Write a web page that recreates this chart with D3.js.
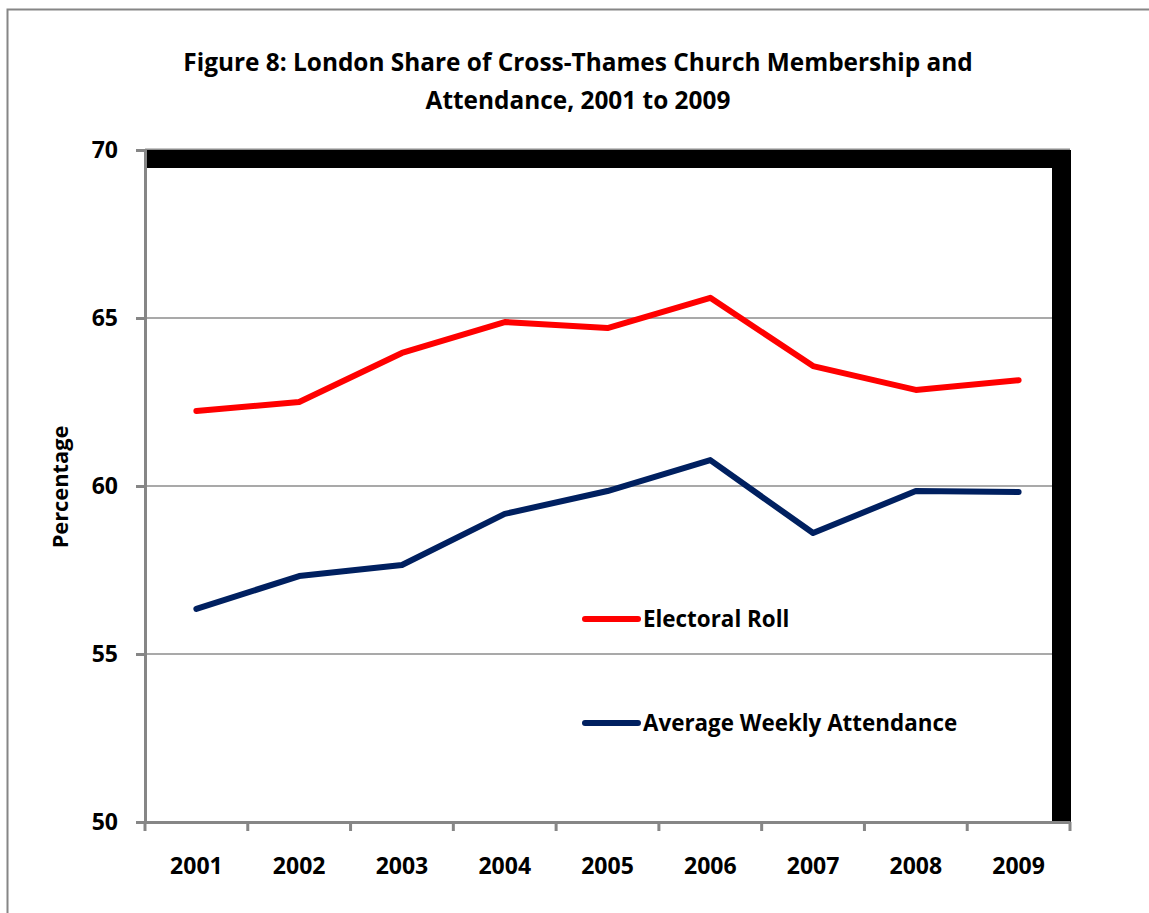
<!DOCTYPE html>
<html>
<head>
<meta charset="utf-8">
<script src="https://cdn.jsdelivr.net/npm/d3@7"></script>
<style>
  body { margin: 0; background: #fff; }
  text { font-family: "Open Sans", "Liberation Sans", sans-serif; font-weight: bold; fill: #000; }
</style>
</head>
<body>
<div id="chart"></div>
<script>
// data
var years = ["2001","2002","2003","2004","2005","2006","2007","2008","2009"];
var electoralRoll = [62.23, 62.5, 63.96, 64.88, 64.7, 65.6, 63.57, 62.86, 63.15];
var attendance = [56.34, 57.32, 57.65, 59.17, 59.85, 60.77, 58.6, 59.85, 59.82];
var yTicks = [50, 55, 60, 65, 70];

var W = 1149, H = 913;
var margin = {top: 150, right: 79, bottom: 91, left: 145},
    width = W - margin.left - margin.right,
    height = H - margin.top - margin.bottom;

var root = d3.select("#chart")
  .append("svg")
    .attr("width", W)
    .attr("height", H);

// outer chart border (runs off the right/bottom edge)
root.append("rect")
  .attr("x", 7.5).attr("y", 9.5)
  .attr("width", 1160).attr("height", 920)
  .attr("fill", "none")
  .attr("stroke", "#868686")
  .attr("stroke-width", 2);

// title
var title = root.append("text")
  .attr("text-anchor", "middle")
  .attr("font-size", 24.4);
title.append("tspan").attr("x", 578).attr("y", 71)
  .text("Figure 8: London Share of Cross-Thames Church Membership and");
title.append("tspan").attr("x", 578).attr("y", 109)
  .text("Attendance, 2001 to 2009");

var svg = root.append("g")
  .attr("transform", "translate(" + margin.left + "," + margin.top + ")");

var x = d3.scaleBand()
  .domain(years)
  .range([0, width]);

var y = d3.scaleLinear()
  .domain([50, 70])
  .range([height, 0]);

// gridlines
svg.append("g")
  .selectAll("line")
  .data(yTicks.filter(function(d) { return d > 50 && d < 70; }))
  .enter()
  .append("line")
    .attr("x1", 0).attr("x2", width)
    .attr("y1", function(d) { return y(d); })
    .attr("y2", function(d) { return y(d); })
    .attr("stroke", "#8c8c8c")
    .attr("stroke-width", 1.5);

// black frame on top and right of plot
svg.append("line")
  .attr("x1", 0).attr("x2", width)
  .attr("y1", y(70) - 0.5).attr("y2", y(70) - 0.5)
  .attr("stroke", "#8c8c8c").attr("stroke-width", 2);
svg.append("rect")
  .attr("x", 0).attr("y", y(70))
  .attr("width", width + 1).attr("height", 18)
  .attr("fill", "#000");
svg.append("rect")
  .attr("x", width - 18).attr("y", y(70))
  .attr("width", 19).attr("height", height)
  .attr("fill", "#000");

// Y axis
var yAxis = svg.append("g")
  .call(d3.axisLeft(y).tickValues(yTicks).tickSize(9).tickPadding(18));
yAxis.select(".domain").attr("stroke", "#868686").attr("stroke-width", 3);
yAxis.selectAll(".tick line").attr("stroke", "#868686").attr("stroke-width", 3);
yAxis.selectAll("text")
  .attr("font-size", 23)
  .attr("font-family", "'Open Sans', sans-serif")
  .attr("font-weight", "bold")
  .attr("fill", "#000");

// X axis
var xAxis = svg.append("g")
  .attr("transform", "translate(0," + height + ")")
  .call(d3.axisBottom(x).tickSize(0).tickPadding(36));
xAxis.select(".domain").attr("stroke", "#868686").attr("stroke-width", 3);
xAxis.selectAll("text")
  .attr("font-size", 23)
  .attr("font-family", "'Open Sans', sans-serif")
  .attr("font-weight", "bold")
  .attr("fill", "#000");
// tick marks at category boundaries
svg.append("g")
  .selectAll("line")
  .data(years.concat(["end"]))
  .enter()
  .append("line")
    .attr("x1", function(d, i) { return i < years.length ? x(d) : width; })
    .attr("x2", function(d, i) { return i < years.length ? x(d) : width; })
    .attr("y1", height).attr("y2", height + 9)
    .attr("stroke", "#868686").attr("stroke-width", 3);

// y axis title
root.append("text")
  .attr("transform", "translate(68,487) rotate(-90)")
  .attr("text-anchor", "middle")
  .attr("font-size", 21.8)
  .text("Percentage");

// lines
var line = d3.line()
  .x(function(d, i) { return x(years[i]) + x.bandwidth() / 2; })
  .y(function(d) { return y(d); });

svg.append("path")
  .datum(electoralRoll)
  .attr("fill", "none")
  .attr("stroke", "#ff0000")
  .attr("stroke-width", 6)
  .attr("stroke-linejoin", "round")
  .attr("stroke-linecap", "round")
  .attr("d", line);

svg.append("path")
  .datum(attendance)
  .attr("fill", "none")
  .attr("stroke", "#002060")
  .attr("stroke-width", 6)
  .attr("stroke-linejoin", "round")
  .attr("stroke-linecap", "round")
  .attr("d", line);

// legend
var legend = [
  {name: "Electoral Roll", color: "#ff0000", y: 619},
  {name: "Average Weekly Attendance", color: "#002060", y: 723}
];
var lg = root.append("g").selectAll("g")
  .data(legend)
  .enter()
  .append("g");
lg.append("line")
  .attr("x1", 585).attr("x2", 638)
  .attr("y1", function(d) { return d.y; })
  .attr("y2", function(d) { return d.y; })
  .attr("stroke", function(d) { return d.color; })
  .attr("stroke-width", 6)
  .attr("stroke-linecap", "round");
lg.append("text")
  .attr("x", 643)
  .attr("y", function(d) { return d.y + 8; })
  .attr("font-size", 22.4)
  .text(function(d) { return d.name; });
</script>
</body>
</html>
